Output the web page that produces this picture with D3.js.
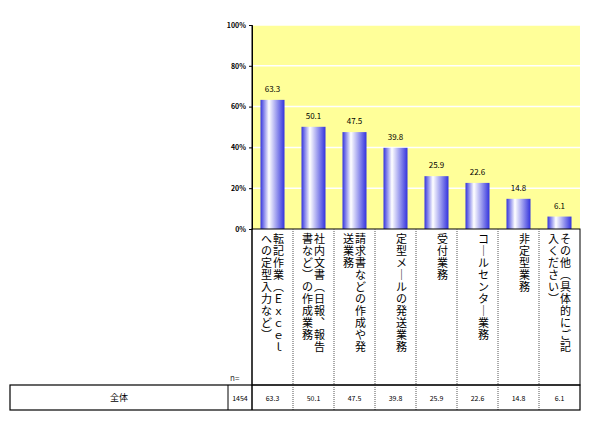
<!DOCTYPE html><html><head><meta charset="utf-8"><script src="https://cdn.jsdelivr.net/npm/d3@7"></script>
<style>body{margin:0;background:#fff}text{font-family:"Noto Sans CJK JP",sans-serif}</style></head><body><svg id="c" width="590" height="425"></svg><script>
const labels=[["転記作業（Ｅｘｃｅｌ","への定型入力など）"],["社内文書（日報、報告","書など）の作成業務"],["請求書などの作成や発","送業務"],["定型メールの発送業務"],["受付業務"],["コールセンター業務"],["非定型業務"],["その他（具体的にご記","入ください）"]];
const values=[63.3,50.1,47.5,39.8,25.9,22.6,14.8,6.1];
const ticks=[0,20,40,60,80,100];
const total=1454, rowLabel="全体";
const vmap={"（":"︵","）":"︶","、":"︑","ー":"｜"};
const svg=d3.select("#c");
const L=252,R=580,T=25,B=229;
const x=d3.scaleBand().domain(d3.range(values.length)).range([L,R]);
const y=d3.scaleLinear().domain([0,100]).range([B,T]);
const g=svg.append("defs").append("linearGradient").attr("id","gr");
[[0,"#3333dd"],[0.35,"#ffffff"],[1,"#3333dd"]].forEach(s=>g.append("stop").attr("offset",s[0]).attr("stop-color",s[1]));
svg.append("rect").attr("x",L).attr("y",T).attr("width",R-L).attr("height",B-T).attr("fill","#ffff99");
svg.selectAll(".gl").data(ticks.slice(1)).join("line").attr("x1",L).attr("x2",R).attr("y1",d=>y(d)).attr("y2",d=>y(d)).attr("stroke","#fff").attr("stroke-width",1.5);
svg.append("g").attr("transform",`translate(${L},0)`).call(d3.axisLeft(y).tickValues(ticks).tickFormat(d=>d+"%").tickSize(3)).call(a=>{a.selectAll("text").attr("font-size",7).attr("font-family","Arial").attr("font-weight","bold");a.select(".domain").attr("stroke","#000")});
svg.selectAll(".b").data(values).join("rect").attr("x",(d,i)=>x(i)+x.bandwidth()/2-12).attr("width",24).attr("y",d=>y(d)).attr("height",d=>B-y(d)).attr("fill","url(#gr)");
svg.selectAll(".v").data(values).join("text").attr("x",(d,i)=>x(i)+x.bandwidth()/2).attr("y",d=>y(d)-8).attr("text-anchor","middle").attr("font-size",8).attr("font-family","Arial").text(d=>d.toFixed(1));
svg.append("rect").attr("x",L).attr("y",B).attr("width",R-L).attr("height",385-B).attr("fill","none").attr("stroke","#000");
d3.range(1,values.length).forEach(i=>svg.append("line").attr("x1",x(i)).attr("x2",x(i)).attr("y1",B).attr("y2",410).attr("stroke","#555").attr("stroke-dasharray","1,1"));
labels.forEach((ls,i)=>ls.forEach((s,j)=>{
  const t=svg.append("text").attr("font-size",11).attr("text-anchor","middle");
  Array.from(s).forEach((ch,k)=>t.append("tspan").attr("x",x(i)+x.bandwidth()/2+6-j*12).attr("y",B+14+k*12).text(vmap[ch]||ch));
}));
svg.append("text").attr("x",230).attr("y",381).attr("font-size",8).attr("fill","#333").text("n=");
svg.append("rect").attr("x",10).attr("y",385).attr("width",R-10).attr("height",25).attr("fill","none").attr("stroke","#000").attr("stroke-width",1.2);
[228,L].forEach(v=>svg.append("line").attr("x1",v).attr("x2",v).attr("y1",385).attr("y2",410).attr("stroke","#000"));
svg.append("line").attr("x1",L).attr("x2",L).attr("y1",T).attr("y2",410).attr("stroke","#000");
svg.append("text").attr("x",119).attr("y",401).attr("text-anchor","middle").attr("font-size",9).text(rowLabel);
svg.append("text").attr("x",240).attr("y",401).attr("text-anchor","middle").attr("font-size",7).attr("font-family","Arial").text(total);
svg.selectAll(".t").data(values).join("text").attr("x",(d,i)=>x(i)+x.bandwidth()/2).attr("y",401).attr("text-anchor","middle").attr("font-size",7).attr("font-family","Arial").text(d=>d.toFixed(1));
</script></body></html>
